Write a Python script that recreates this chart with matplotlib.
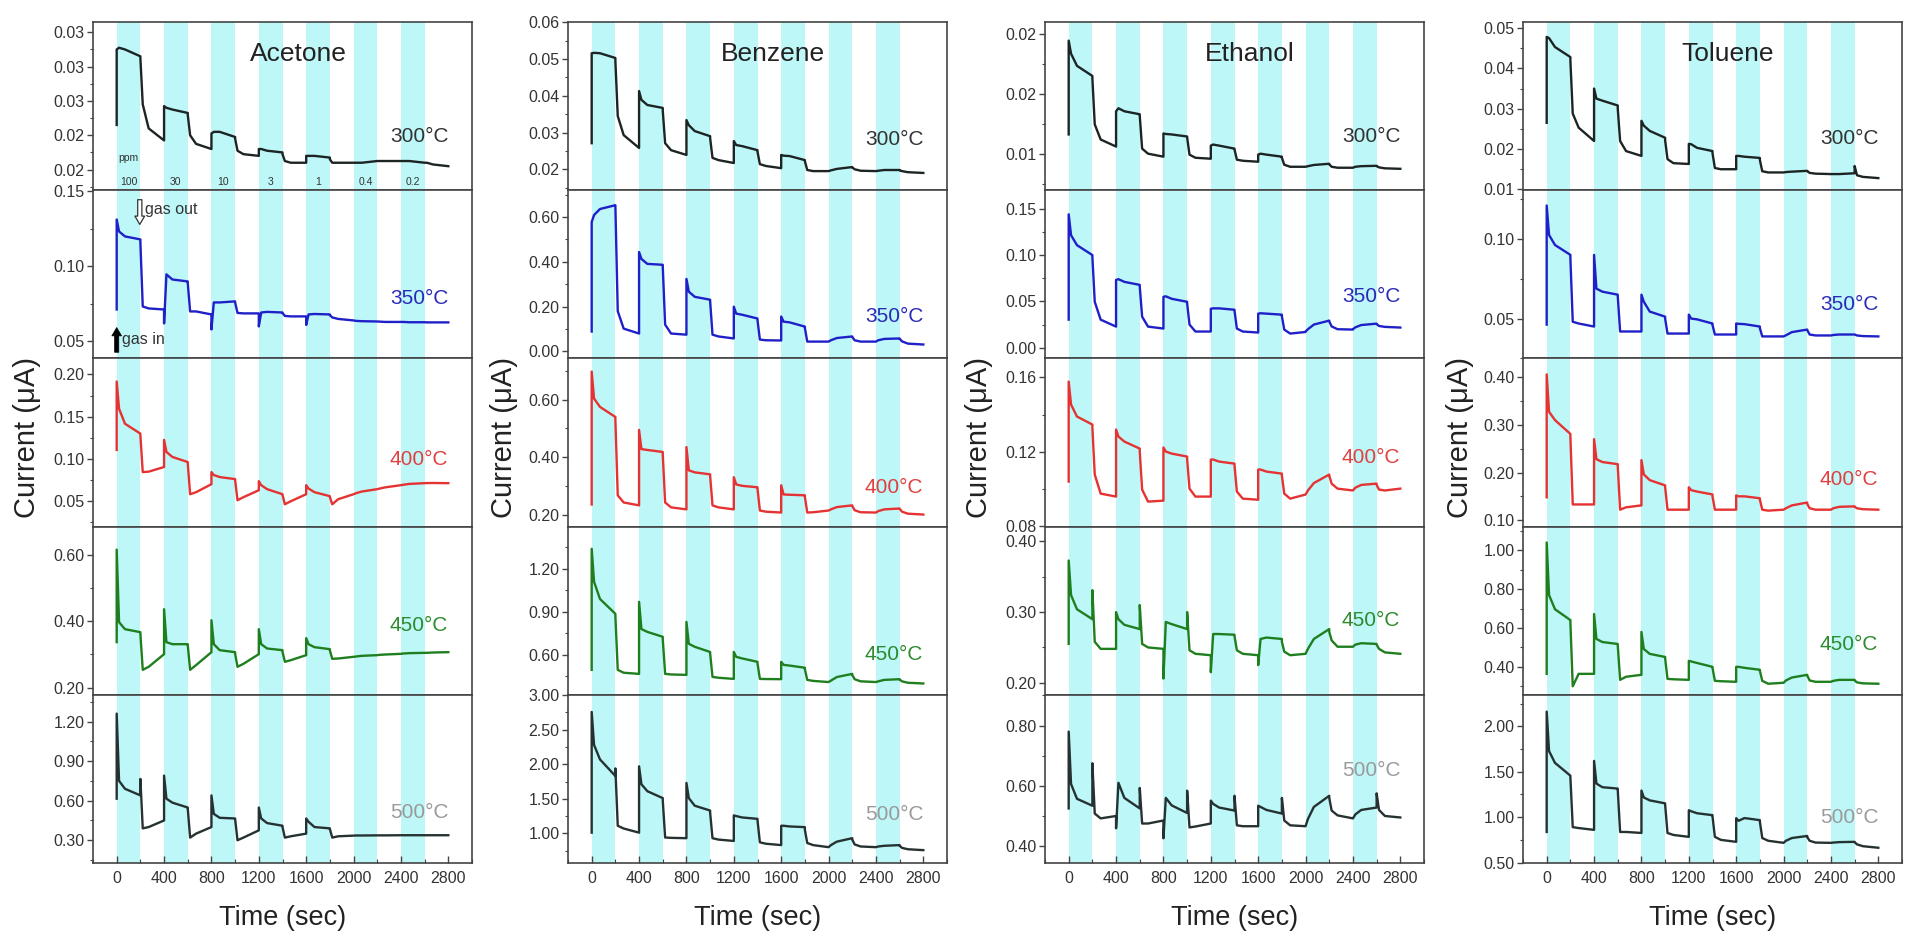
import matplotlib
matplotlib.use('Agg')
import matplotlib.pyplot as plt
from matplotlib.ticker import FixedLocator, AutoMinorLocator, FuncFormatter, MultipleLocator
from decimal import Decimal, ROUND_HALF_UP

plt.rcParams['font.family'] = ['Liberation Sans', 'DejaVu Sans']

# ---------------- data ----------------
GASES = ['Acetone', 'Benzene', 'Ethanol', 'Toluene']
TEMPS = ['300°C', '350°C', '400°C', '450°C', '500°C']
SEG_STARTS = [0, 200, 400, 600, 800, 1000, 1200, 1400, 1600, 1800, 2000, 2200, 2400, 2600]
SEG_OFFSETS = [0, 20, 70, 200]
BAND_STARTS = [0, 400, 800, 1200, 1600, 2000, 2400]
BAND_WIDTH = 200
CONC_PPM = ['100', '30', '10', '3', '1', '0.4', '0.2']
XTICKS = [0, 400, 800, 1200, 1600, 2000, 2400, 2800]

# each curve: baseline before gas-in, then 4 values per 200 s segment
ACETONE_300 = [0.0246,
    0.0290, 0.0291, 0.0290, 0.0286,  0.0285, 0.0258, 0.0244, 0.0237,
    0.0257, 0.0256, 0.0255, 0.0253,  0.0252, 0.0240, 0.0235, 0.0232,
    0.0241, 0.0242, 0.0242, 0.0239,  0.0238, 0.0231, 0.0229, 0.0228,
    0.0232, 0.0232, 0.0231, 0.0230,  0.0229, 0.0225, 0.0224, 0.0224,
    0.0228, 0.0228, 0.0228, 0.0227,  0.0226, 0.0224, 0.0224, 0.0224,
    0.0224, 0.0224, 0.0224, 0.0225,  0.0225, 0.0225, 0.0225, 0.0225,
    0.0225, 0.0225, 0.0225, 0.0224,  0.0224, 0.0224, 0.0223, 0.0222]
ACETONE_350 = [0.0713,
    0.1313, 0.1233, 0.1200, 0.1180,  0.1160, 0.0733, 0.0720, 0.0713,
    0.0620, 0.0947, 0.0913, 0.0900,  0.0890, 0.0700, 0.0700, 0.0680,
    0.0580, 0.0760, 0.0760, 0.0767,  0.0760, 0.0690, 0.0687, 0.0687,
    0.0600, 0.0693, 0.0697, 0.0693,  0.0690, 0.0670, 0.0667, 0.0667,
    0.0610, 0.0680, 0.0683, 0.0680,  0.0675, 0.0660, 0.0650, 0.0640,
    0.0640, 0.0637, 0.0635, 0.0633,  0.0633, 0.0632, 0.0630, 0.0630,
    0.0630, 0.0630, 0.0628, 0.0628,  0.0628, 0.0627, 0.0627, 0.0627]
ACETONE_400 = [0.1107,
    0.1917, 0.1595, 0.1417, 0.1300,  0.1280, 0.0845, 0.0850, 0.0905,
    0.1226, 0.1083, 0.1024, 0.0964,  0.0950, 0.0583, 0.0607, 0.0702,
    0.0845, 0.0810, 0.0786, 0.0762,  0.0750, 0.0512, 0.0548, 0.0630,
    0.0738, 0.0690, 0.0643, 0.0583,  0.0575, 0.0464, 0.0500, 0.0583,
    0.0690, 0.0650, 0.0607, 0.0560,  0.0550, 0.0464, 0.0524, 0.0583,
    0.0583, 0.0595, 0.0615, 0.0643,  0.0643, 0.0650, 0.0665, 0.0690,
    0.0690, 0.0695, 0.0705, 0.0714,  0.0714, 0.0715, 0.0716, 0.0714]
ACETONE_450 = [0.337,
    0.615, 0.397, 0.376, 0.367,  0.362, 0.254, 0.263, 0.301,
    0.436, 0.337, 0.331, 0.331,  0.328, 0.254, 0.268, 0.307,
    0.403, 0.331, 0.313, 0.307,  0.302, 0.263, 0.272, 0.301,
    0.376, 0.331, 0.318, 0.313,  0.308, 0.278, 0.283, 0.298,
    0.349, 0.331, 0.322, 0.316,  0.312, 0.287, 0.288, 0.293,
    0.293, 0.294, 0.296, 0.298,  0.298, 0.299, 0.300, 0.302,
    0.302, 0.303, 0.304, 0.305,  0.305, 0.305, 0.306, 0.307]
ACETONE_500 = [0.615,
    1.260, 0.750, 0.690, 0.640,  0.765, 0.390, 0.400, 0.450,
    0.790, 0.615, 0.585, 0.548,  0.540, 0.320, 0.350, 0.400,
    0.640, 0.500, 0.470, 0.465,  0.460, 0.300, 0.320, 0.375,
    0.548, 0.465, 0.430, 0.410,  0.400, 0.320, 0.330, 0.350,
    0.465, 0.440, 0.400, 0.390,  0.385, 0.320, 0.330, 0.335,
    0.335, 0.336, 0.336, 0.337,  0.337, 0.337, 0.337, 0.338,
    0.338, 0.338, 0.338, 0.338,  0.338, 0.338, 0.338, 0.338]

BENZENE_300 = [0.0271,
    0.0516, 0.0517, 0.0516, 0.0503,  0.0495, 0.0345, 0.0293, 0.0258,
    0.0413, 0.0389, 0.0375, 0.0367,  0.0360, 0.0271, 0.0252, 0.0239,
    0.0334, 0.0320, 0.0304, 0.0290,  0.0285, 0.0231, 0.0225, 0.0217,
    0.0277, 0.0266, 0.0263, 0.0252,  0.0248, 0.0214, 0.0209, 0.0203,
    0.0239, 0.0237, 0.0236, 0.0225,  0.0222, 0.0198, 0.0195, 0.0195,
    0.0195, 0.0197, 0.0201, 0.0206,  0.0205, 0.0200, 0.0196, 0.0195,
    0.0195, 0.0196, 0.0198, 0.0198,  0.0197, 0.0195, 0.0192, 0.0190]
BENZENE_350 = [0.089,
    0.578, 0.609, 0.636, 0.653,  0.650, 0.180, 0.102, 0.080,
    0.444, 0.413, 0.391, 0.387,  0.380, 0.120, 0.080, 0.075,
    0.324, 0.267, 0.244, 0.231,  0.225, 0.075, 0.067, 0.058,
    0.200, 0.169, 0.164, 0.147,  0.140, 0.053, 0.050, 0.049,
    0.156, 0.133, 0.130, 0.111,  0.105, 0.044, 0.044, 0.044,
    0.044, 0.050, 0.060, 0.067,  0.065, 0.050, 0.044, 0.044,
    0.044, 0.050, 0.056, 0.058,  0.057, 0.045, 0.035, 0.031]
BENZENE_400 = [0.235,
    0.698, 0.604, 0.575, 0.540,  0.530, 0.267, 0.242, 0.232,
    0.495, 0.428, 0.425, 0.418,  0.410, 0.242, 0.225, 0.218,
    0.435, 0.354, 0.347, 0.340,  0.335, 0.232, 0.225, 0.218,
    0.330, 0.305, 0.300, 0.295,  0.290, 0.214, 0.210, 0.207,
    0.302, 0.270, 0.269, 0.267,  0.262, 0.207, 0.208, 0.214,
    0.214, 0.218, 0.226, 0.232,  0.230, 0.215, 0.208, 0.207,
    0.207, 0.212, 0.218, 0.221,  0.220, 0.210, 0.203, 0.200]
BENZENE_450 = [0.495,
    1.340, 1.110, 0.990, 0.886,  0.870, 0.495, 0.475, 0.467,
    0.970, 0.780, 0.760, 0.726,  0.710, 0.467, 0.463, 0.460,
    0.830, 0.677, 0.656, 0.620,  0.610, 0.446, 0.440, 0.432,
    0.620, 0.586, 0.575, 0.551,  0.540, 0.432, 0.431, 0.430,
    0.551, 0.530, 0.525, 0.510,  0.500, 0.425, 0.418, 0.410,
    0.410, 0.420, 0.445, 0.467,  0.460, 0.430, 0.415, 0.410,
    0.410, 0.415, 0.425, 0.430,  0.428, 0.415, 0.405, 0.400]
BENZENE_500 = [1.01,
    2.757, 2.280, 2.070, 1.830,  1.940, 1.110, 1.070, 1.010,
    1.970, 1.710, 1.610, 1.510,  1.480, 0.940, 0.935, 0.930,
    1.730, 1.510, 1.400, 1.330,  1.300, 0.930, 0.910, 0.890,
    1.260, 1.250, 1.230, 1.210,  1.190, 0.870, 0.850, 0.830,
    1.110, 1.110, 1.100, 1.090,  1.050, 0.860, 0.830, 0.800,
    0.800, 0.830, 0.880, 0.930,  0.910, 0.840, 0.810, 0.800,
    0.800, 0.810, 0.820, 0.830,  0.820, 0.790, 0.770, 0.757]

ETHANOL_300 = [0.01164,
    0.01945, 0.01836, 0.01735, 0.01651,  0.01630, 0.01248, 0.01122, 0.01063,
    0.01357, 0.01382, 0.01357, 0.01332,  0.01320, 0.01046, 0.01004, 0.00979,
    0.01172, 0.01168, 0.01164, 0.01147,  0.01140, 0.00996, 0.00970, 0.00962,
    0.01071, 0.01080, 0.01071, 0.01046,  0.01040, 0.00954, 0.00945, 0.00937,
    0.00996, 0.01004, 0.00996, 0.00979,  0.00970, 0.00912, 0.00895, 0.00895,
    0.00895, 0.00900, 0.00910, 0.00920,  0.00915, 0.00895, 0.00887, 0.00887,
    0.00887, 0.00895, 0.00900, 0.00903,  0.00900, 0.00890, 0.00882, 0.00878]
ETHANOL_350 = [0.0303,
    0.1440, 0.1214, 0.1107, 0.1000,  0.0980, 0.0496, 0.0303, 0.0228,
    0.0732, 0.0740, 0.0711, 0.0678,  0.0660, 0.0335, 0.0228, 0.0207,
    0.0550, 0.0555, 0.0528, 0.0496,  0.0480, 0.0250, 0.0175, 0.0175,
    0.0421, 0.0425, 0.0425, 0.0410,  0.0400, 0.0207, 0.0175, 0.0164,
    0.0368, 0.0372, 0.0368, 0.0357,  0.0340, 0.0196, 0.0153, 0.0170,
    0.0175, 0.0200, 0.0250, 0.0293,  0.0285, 0.0230, 0.0200, 0.0196,
    0.0200, 0.0220, 0.0245, 0.0260,  0.0255, 0.0235, 0.0225, 0.0218]
ETHANOL_400 = [0.1038,
    0.1578, 0.1454, 0.1389, 0.1346,  0.1330, 0.1076, 0.0973, 0.0957,
    0.1319, 0.1281, 0.1254, 0.1216,  0.1200, 0.0995, 0.0930, 0.0935,
    0.1222, 0.1200, 0.1189, 0.1173,  0.1160, 0.1000, 0.0957, 0.0957,
    0.1157, 0.1157, 0.1146, 0.1135,  0.1125, 0.0984, 0.0946, 0.0940,
    0.1103, 0.1103, 0.1092, 0.1081,  0.1070, 0.0973, 0.0946, 0.0968,
    0.0968, 0.0990, 0.1030, 0.1076,  0.1070, 0.1027, 0.1000, 0.0990,
    0.0990, 0.1005, 0.1020, 0.1027,  0.1020, 0.0995, 0.0990, 0.1000]
ETHANOL_450 = [0.255,
    0.373, 0.324, 0.304, 0.290,  0.331, 0.258, 0.248, 0.248,
    0.300, 0.290, 0.282, 0.276,  0.310, 0.255, 0.250, 0.248,
    0.206, 0.286, 0.283, 0.276,  0.300, 0.246, 0.241, 0.239,
    0.215, 0.269, 0.269, 0.268,  0.266, 0.246, 0.241, 0.239,
    0.225, 0.262, 0.264, 0.262,  0.258, 0.244, 0.239, 0.241,
    0.241, 0.248, 0.262, 0.276,  0.272, 0.260, 0.251, 0.251,
    0.251, 0.254, 0.256, 0.255,  0.254, 0.248, 0.243, 0.241]
ETHANOL_500 = [0.525,
    0.780, 0.606, 0.557, 0.534,  0.675, 0.508, 0.492, 0.500,
    0.459, 0.610, 0.560, 0.525,  0.593, 0.475, 0.475, 0.485,
    0.426, 0.560, 0.535, 0.510,  0.584, 0.462, 0.465, 0.475,
    0.551, 0.540, 0.528, 0.518,  0.567, 0.469, 0.466, 0.466,
    0.534, 0.530, 0.520, 0.508,  0.560, 0.485, 0.469, 0.466,
    0.466, 0.490, 0.530, 0.567,  0.560, 0.518, 0.502, 0.492,
    0.492, 0.505, 0.520, 0.528,  0.575, 0.520, 0.500, 0.495]

TOLUENE_300 = [0.0265,
    0.0478, 0.0475, 0.0453, 0.0428,  0.0420, 0.0288, 0.0253, 0.0220,
    0.0350, 0.0325, 0.0320, 0.0308,  0.0300, 0.0220, 0.0195, 0.0183,
    0.0270, 0.0258, 0.0245, 0.0228,  0.0222, 0.0175, 0.0165, 0.0163,
    0.0213, 0.0212, 0.0203, 0.0195,  0.0190, 0.0153, 0.0150, 0.0150,
    0.0183, 0.0183, 0.0181, 0.0178,  0.0173, 0.0145, 0.0142, 0.0142,
    0.0142, 0.0143, 0.0144, 0.0146,  0.0145, 0.0141, 0.0139, 0.0138,
    0.0138, 0.0138, 0.0138, 0.0140,  0.0158, 0.0135, 0.0131, 0.0128]
TOLUENE_350 = [0.0462,
    0.1210, 0.1025, 0.0962, 0.0900,  0.0880, 0.0480, 0.0469, 0.0450,
    0.0900, 0.0688, 0.0669, 0.0650,  0.0640, 0.0419, 0.0419, 0.0419,
    0.0650, 0.0606, 0.0544, 0.0512,  0.0500, 0.0406, 0.0406, 0.0406,
    0.0525, 0.0500, 0.0495, 0.0469,  0.0460, 0.0400, 0.0400, 0.0400,
    0.0469, 0.0467, 0.0465, 0.0450,  0.0440, 0.0388, 0.0388, 0.0388,
    0.0388, 0.0395, 0.0415, 0.0431,  0.0428, 0.0400, 0.0394, 0.0394,
    0.0394, 0.0397, 0.0400, 0.0400,  0.0400, 0.0394, 0.0390, 0.0388]
TOLUENE_400 = [0.148,
    0.406, 0.3275, 0.310, 0.281,  0.276, 0.133, 0.133, 0.133,
    0.270, 0.228, 0.222, 0.2175,  0.213, 0.122, 0.127, 0.131,
    0.226, 0.196, 0.184, 0.173,  0.170, 0.122, 0.122, 0.122,
    0.169, 0.163, 0.160, 0.154,  0.150, 0.122, 0.122, 0.122,
    0.152, 0.150, 0.150, 0.146,  0.143, 0.122, 0.120, 0.122,
    0.122, 0.125, 0.131, 0.137,  0.134, 0.125, 0.122, 0.122,
    0.122, 0.125, 0.128, 0.129,  0.128, 0.125, 0.123, 0.122]
TOLUENE_450 = [0.364,
    1.041, 0.770, 0.697, 0.641,  0.630, 0.300, 0.364, 0.364,
    0.672, 0.544, 0.528, 0.518,  0.510, 0.333, 0.349, 0.359,
    0.580, 0.492, 0.467, 0.451,  0.445, 0.338, 0.336, 0.333,
    0.431, 0.428, 0.420, 0.400,  0.395, 0.328, 0.326, 0.323,
    0.400, 0.400, 0.395, 0.385,  0.380, 0.328, 0.313, 0.318,
    0.318, 0.330, 0.345, 0.359,  0.355, 0.330, 0.323, 0.323,
    0.323, 0.328, 0.333, 0.333,  0.330, 0.320, 0.315, 0.313]
TOLUENE_500 = [0.837,
    2.163, 1.728, 1.598, 1.457,  1.440, 0.890, 0.880, 0.860,
    1.620, 1.370, 1.330, 1.315,  1.300, 0.837, 0.837, 0.826,
    1.293, 1.217, 1.185, 1.152,  1.140, 0.826, 0.804, 0.783,
    1.076, 1.065, 1.043, 1.022,  1.010, 0.783, 0.750, 0.728,
    0.989, 0.960, 0.990, 0.967,  0.950, 0.770, 0.740, 0.717,
    0.717, 0.740, 0.770, 0.793,  0.780, 0.740, 0.720, 0.717,
    0.717, 0.720, 0.725, 0.728,  0.725, 0.700, 0.680, 0.663]

YTICKS_ACETONE = [[0.022, 0.024, 0.026, 0.028, 0.030], [0.05, 0.10, 0.15],
                  [0.05, 0.10, 0.15, 0.20], [0.20, 0.40, 0.60], [0.30, 0.60, 0.90, 1.20]]
YTICKS_BENZENE = [[0.02, 0.03, 0.04, 0.05, 0.06], [0.00, 0.20, 0.40, 0.60],
                  [0.20, 0.40, 0.60], [0.60, 0.90, 1.20], [1.00, 1.50, 2.00, 2.50, 3.00]]
YTICKS_ETHANOL = [[0.010, 0.015, 0.020], [0.00, 0.05, 0.10, 0.15],
                  [0.08, 0.12, 0.16], [0.20, 0.30, 0.40], [0.40, 0.60, 0.80]]
YTICKS_TOLUENE = [[0.01, 0.02, 0.03, 0.04, 0.05], [0.05, 0.10],
                  [0.10, 0.20, 0.30, 0.40], [0.40, 0.60, 0.80, 1.00], [0.50, 1.00, 1.50, 2.00]]

YLIM_ACETONE = [(0.0208, 0.0306), (0.0387, 0.1508), (0.020, 0.219), (0.179, 0.684), (0.1275, 1.4025)]
YLIM_BENZENE = [(0.0143, 0.0601), (-0.031, 0.72), (0.158, 0.744), (0.321, 1.495), (0.571, 3.005)]
YLIM_ETHANOL = [(0.0070, 0.0210), (-0.0115, 0.170), (0.0795, 0.1703), (0.183, 0.421), (0.344, 0.902)]
YLIM_TOLUENE = [(0.0098, 0.0515), (0.025, 0.1306), (0.0865, 0.4395), (0.256, 1.123), (0.495, 2.348)]

# ---------------- layout / style ----------------
W, H = 1907, 938
COL_LEFT = [93, 568, 1045, 1523]
COL_W = 379
TOP = 22
ROW_H = 168.2
YLABEL_X = [27, 504, 979, 1460]
LINE_COLORS = ['#1c2424', '#2020c8', '#e53232', '#1f7f1f', '#263232']
LABEL_COLORS = ['#333333', '#2a2ab8', '#e04040', '#2e8a2e', '#9a9a9a']
BAND_COLOR = '#bdf7f8'
EDGE = '#444444'
TEMP_Y = [[0.32, 0.355, 0.40, 0.41, 0.30],
          [0.30, 0.25, 0.23, 0.24, 0.29],
          [0.32, 0.37, 0.41, 0.44, 0.55],
          [0.31, 0.32, 0.28, 0.30, 0.27]]

T = [0.0] + [s + o for s in SEG_STARTS for o in SEG_OFFSETS]

CURVES = [[ACETONE_300, ACETONE_350, ACETONE_400, ACETONE_450, ACETONE_500],
          [BENZENE_300, BENZENE_350, BENZENE_400, BENZENE_450, BENZENE_500],
          [ETHANOL_300, ETHANOL_350, ETHANOL_400, ETHANOL_450, ETHANOL_500],
          [TOLUENE_300, TOLUENE_350, TOLUENE_400, TOLUENE_450, TOLUENE_500]]
YTICKS = [YTICKS_ACETONE, YTICKS_BENZENE, YTICKS_ETHANOL, YTICKS_TOLUENE]
YLIMS = [YLIM_ACETONE, YLIM_BENZENE, YLIM_ETHANOL, YLIM_TOLUENE]


def fmt2(v, pos=None):
    d = Decimal(f"{float(v):.6f}").quantize(Decimal('0.01'), rounding=ROUND_HALF_UP)
    s = str(d)
    return '0.00' if s == '-0.00' else s


fig = plt.figure(figsize=(W / 100, H / 100), dpi=100)
fig.patch.set_facecolor('white')

for c, gas in enumerate(GASES):
    for r in range(5):
        top_px = TOP + r * ROW_H
        ax = fig.add_axes([COL_LEFT[c] / W, 1 - (top_px + ROW_H) / H, COL_W / W, ROW_H / H])
        for b in BAND_STARTS:
            ax.axvspan(b, b + BAND_WIDTH, color=BAND_COLOR, lw=0, zorder=0)
        ax.plot(T, CURVES[c][r], color=LINE_COLORS[r], lw=1.7, zorder=2,
                solid_joinstyle='round')
        ax.set_xlim(-200, 3000)
        ax.set_ylim(*YLIMS[c][r])
        ax.yaxis.set_major_locator(FixedLocator(YTICKS[c][r]))
        ax.yaxis.set_major_formatter(FuncFormatter(fmt2))
        ax.yaxis.set_minor_locator(AutoMinorLocator(2))
        ax.tick_params(axis='y', which='major', direction='out', length=4, width=1,
                       color=EDGE, labelsize=11.5, labelcolor='#333333', pad=2)
        ax.tick_params(axis='y', which='minor', direction='out', length=2.5, width=0.8, color=EDGE)
        ax.xaxis.set_major_locator(FixedLocator(XTICKS))
        ax.xaxis.set_minor_locator(MultipleLocator(200))
        if r < 4:
            ax.tick_params(axis='x', which='both', bottom=False, labelbottom=False)
        else:
            ax.tick_params(axis='x', which='major', direction='in', length=5, width=1,
                           color=EDGE, labelsize=11.5, labelcolor='#333333', pad=6)
            ax.tick_params(axis='x', which='minor', direction='in', length=3, width=0.8, color=EDGE)
        for sp in ax.spines.values():
            sp.set_color(EDGE)
            sp.set_linewidth(1.2)
        ax.text(0.9375, TEMP_Y[c][r], TEMPS[r], transform=ax.transAxes, ha='right',
                va='center', fontsize=15, color=LABEL_COLORS[r])
        if r == 0:
            ax.text(1530, 0.81, gas, transform=ax.get_xaxis_transform(), ha='center',
                    va='center', fontsize=19, color='#222222')
        if c == 0 and r == 0:
            ax.text(100, 0.19, 'ppm', transform=ax.get_xaxis_transform(), ha='center',
                    va='center', fontsize=7.5, color='#333333')
            for i, lab in enumerate(CONC_PPM):
                ax.text(BAND_STARTS[i] + BAND_WIDTH / 2, 0.05, lab,
                        transform=ax.get_xaxis_transform(), ha='center', va='center',
                        fontsize=7.5, color='#333333')
        if c == 0 and r == 1:
            tr = ax.get_xaxis_transform()
            ax.annotate('', xy=(195, 0.78), xytext=(195, 0.96), xycoords=tr, textcoords=tr,
                        arrowprops=dict(arrowstyle='simple,head_width=0.7,head_length=0.6,tail_width=0.3',
                                        fc='white', ec='#333333', lw=0.9))
            ax.text(235, 0.885, 'gas out', transform=tr, ha='left', va='center',
                    fontsize=11.5, color='#333333')
            ax.annotate('', xy=(0, 0.20), xytext=(0, 0.02), xycoords=tr, textcoords=tr,
                        arrowprops=dict(arrowstyle='simple,head_width=0.7,head_length=0.6,tail_width=0.3',
                                        fc='black', ec='black', lw=0.5))
            ax.text(45, 0.115, 'gas in', transform=tr, ha='left', va='center',
                    fontsize=11.5, color='#333333')

    fig.text(YLABEL_X[c] / W, 1 - 437 / H, 'Current (μA)', rotation=90, ha='center',
             va='center', fontsize=21, color='#222222')
    fig.text((COL_LEFT[c] + COL_W / 2) / W, 1 - 918 / H, 'Time (sec)', ha='center',
             va='center', fontsize=19.5, color='#222222')

fig.savefig('out.png', dpi=100, facecolor='white')
